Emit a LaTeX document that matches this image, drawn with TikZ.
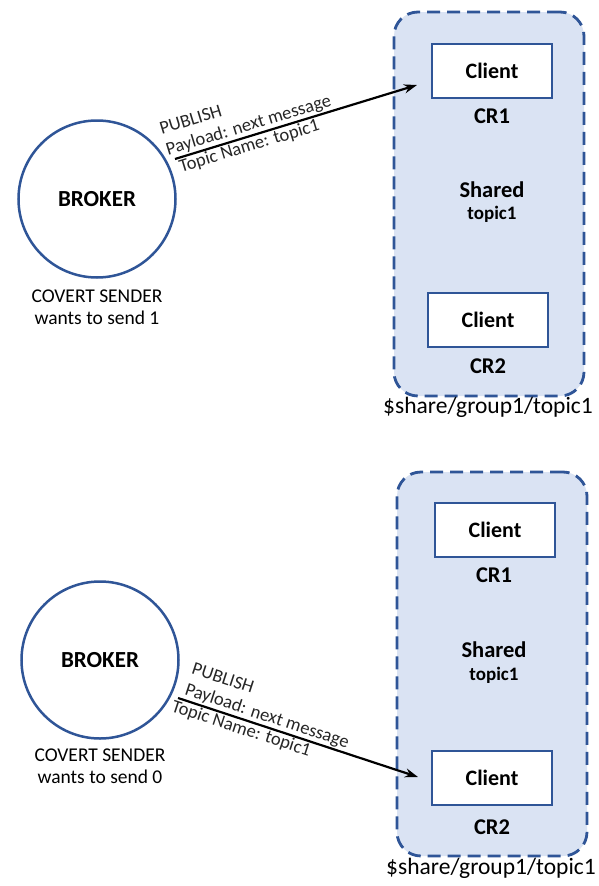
\documentclass[tikz,border=0pt]{standalone}
\usepackage{fontspec}
\setmainfont{Carlito}
\usetikzlibrary{arrows.meta}
\definecolor{edgeblue}{HTML}{2F5597}
\definecolor{groupfill}{HTML}{DAE3F3}
\begin{document}
\begin{tikzpicture}[x=1pt,y=-1pt,
  group/.style={draw=edgeblue, fill=groupfill, line width=2.8pt,
    dash pattern=on 13pt off 7pt, rounded corners=24pt,
    minimum width=190pt, minimum height=384pt, inner sep=0pt},
  client/.style={draw=edgeblue, fill=white, line width=1.3pt,
    minimum width=120pt, minimum height=54pt, inner sep=0pt,
    font=\fontsize{22}{26}\selectfont\bfseries},
  broker/.style={circle, draw=edgeblue, line width=2.5pt, minimum size=157pt,
    inner sep=0pt, font=\fontsize{23}{27}\selectfont\bfseries},
  tag/.style={font=\fontsize{22.5}{27}\selectfont\bfseries, inner sep=0pt},
  subtag/.style={font=\fontsize{19}{23}\selectfont\bfseries, inner sep=0pt},
  note/.style={font=\fontsize{19.5}{22}\selectfont, align=center, inner sep=0pt},
  path/.style={font=\fontsize{23.5}{28}\selectfont, inner sep=0pt},
  msg/.style={font=\fontsize{18.5}{22}\selectfont, text=black!85, inner sep=1pt, align=left},
  arr/.style={-{Stealth[length=13pt,width=9pt]}, line width=2.2pt}]
\useasboundingbox (0,0) rectangle (599,886);

% ---------- upper scenario: sending 1 ----------
\node[group] (g1) at (489,204) {};
\node[client] (c1) at (492,71) {Client};
\node[tag] (r1) at (492,116) {CR1};
\node[tag] (sh1) at (492,190) {Shared};
\node[subtag] (t1) at (492,214) {topic1};
\node[client] (c2) at (488,320) {Client};
\node[tag] (r2) at (488,366) {CR2};
\node[path] (p1) at (488,407) {\$share/group1/topic1};

\node[broker] (b1) at (97,199) {BROKER};
\node[note] (n1) at (97,307) {COVERT SENDER\\wants to send 1};

\coordinate (s1) at (175,159);
\coordinate (e1) at (417,85);
\draw[arr] (s1) -- (e1)
  node[msg, pos=-0.03, sloped, anchor=south west] {PUBLISH\\Payload: next message}
  node[msg, pos=0, sloped, anchor=north west] {Topic Name: topic1};

% ---------- lower scenario: sending 0 ----------
\node[group] (g2) at (492,664) {};
\node[client] (c3) at (495,530) {Client};
\node[tag] (r3) at (494,575) {CR1};
\node[tag] (sh2) at (494,650) {Shared};
\node[subtag] (t2) at (494,675) {topic1};
\node[client] (c4) at (492,778) {Client};
\node[tag] (r4) at (492,827) {CR2};
\node[path] (p2) at (491,868) {\$share/group1/topic1};

\node[broker] (b2) at (100,660) {BROKER};
\node[note] (n2) at (100,766) {COVERT SENDER\\wants to send 0};

\coordinate (s2) at (178,698);
\coordinate (e2) at (418,777);
\draw[arr] (s2) -- (e2)
  node[msg, pos=0.01, sloped, anchor=south west] {PUBLISH\\Payload: next message}
  node[msg, pos=-0.02, sloped, anchor=north west] {Topic Name: topic1};
\end{tikzpicture}
\end{document}
